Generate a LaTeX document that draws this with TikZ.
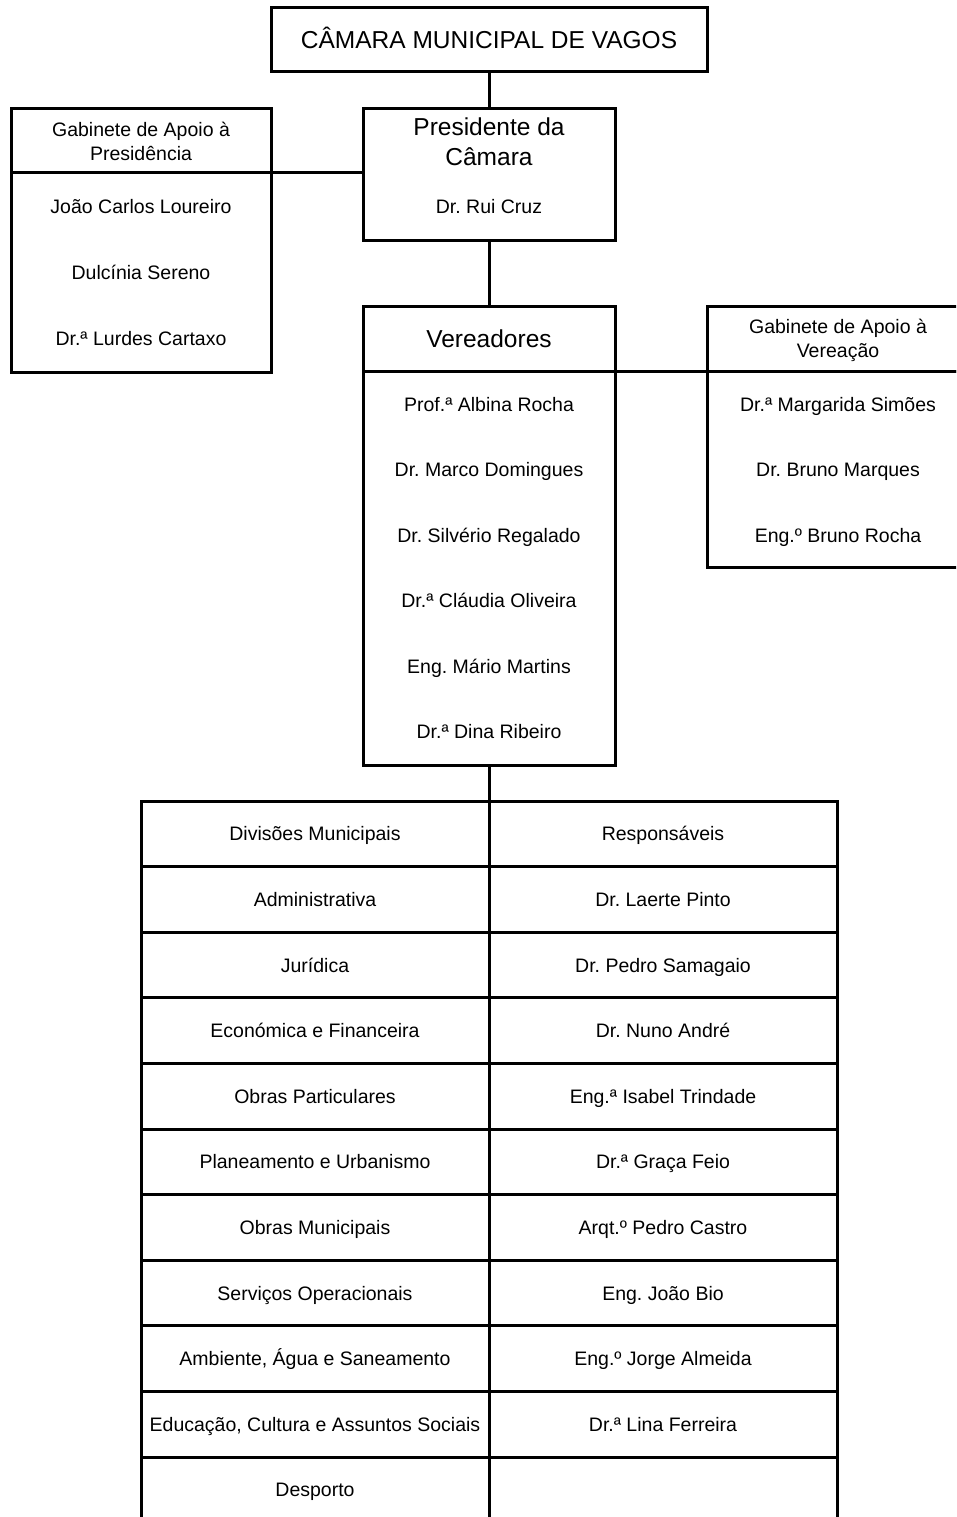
\documentclass[tikz,border=0pt]{standalone}
\usepackage{fontspec}
\setmainfont{Liberation Sans}
\newcommand\smallfnt{\fontsize{19.5}{24}\selectfont}
\newcommand\bigfnt{\fontsize{24.5}{30}\selectfont}
\tikzset{
  frame/.style={draw=black, line width=3pt, inner sep=0pt, outer sep=0pt, minimum width=#1},
  line/.style={draw=black, line width=3pt},
  txt/.style={inner sep=0pt, font=\smallfnt, text height=16pt, text depth=2pt},
  bigtxt/.style={inner sep=0pt, font=\bigfnt, text height=20pt, text depth=3pt},
  cell/.style={draw=black, line width=3pt, inner sep=0pt, outer sep=0pt, minimum width=348pt, minimum height=65.6pt, font=\smallfnt, text height=16pt, text depth=2pt}
}
\begin{document}
\frenchspacing
\begin{tikzpicture}[x=1pt, y=-1pt]
\useasboundingbox (0,0) rectangle (956,1517);
\clip (0,0) rectangle (956,1517);
% top box
\node[frame=436pt, minimum height=64pt] (top) at (489,40) {};
\node[bigtxt] (topT) at (489,40) {CÂMARA MUNICIPAL DE VAGOS};
% presidente
\node[frame=252pt, minimum height=131pt] (pres) at (489,174.5) {};
\node[bigtxt] (presT1) at (489,127) {Presidente da};
\node[bigtxt] (presT2) at (489,157) {Câmara};
\node[txt] (presN) at (489,207) {Dr. Rui Cruz};
% left gabinete
\node[frame=260pt, minimum height=64pt] (lhead) at (141,141) {};
\node[txt] (lh1) at (141,130) {Gabinete de Apoio à};
\node[txt] (lh2) at (141,154) {Presidência};
\node[frame=260pt, minimum height=199pt] (lbody) at (141,272.5) {};
\node[txt] (l1) at (141,207) {João Carlos Loureiro};
\node[txt] (l2) at (141,272) {Dulcínia Sereno};
\node[txt] (l3) at (141,338) {Dr.ª Lurdes Cartaxo};
% vereadores
\node[frame=252pt, minimum height=65pt] (vhead) at (489,338.5) {};
\node[bigtxt] (vT) at (489,339) {Vereadores};
\node[frame=252pt, minimum height=394pt] (vbody) at (489,568) {};
\node[txt] (v1) at (489,404) {Prof.ª Albina Rocha};
\node[txt] (v2) at (489,469) {Dr. Marco Domingues};
\node[txt] (v3) at (489,535) {Dr. Silvério Regalado};
\node[txt] (v4) at (489,600) {Dr.ª Cláudia Oliveira};
\node[txt] (v5) at (489,666) {Eng. Mário Martins};
\node[txt] (v6) at (489,731) {Dr.ª Dina Ribeiro};
% right gabinete
\node[frame=262pt, minimum height=65pt] (rhead) at (838,338.5) {};
\node[txt] (rh1) at (838,326) {Gabinete de Apoio à};
\node[txt] (rh2) at (838,350) {Vereação};
\node[frame=262pt, minimum height=196pt] (rbody) at (838,469) {};
\node[txt] (r1) at (838,404) {Dr.ª Margarida Simões};
\node[txt] (r2) at (838,469) {Dr. Bruno Marques};
\node[txt] (r3) at (838,535) {Eng.º Bruno Rocha};
% table
\node[cell] (d0) at (315,833.8) {Divisões Municipais};
\node[cell] (p0) at (663,833.8) {Responsáveis};
\node[cell] (d1) at (315,899.4) {Administrativa};
\node[cell] (p1) at (663,899.4) {Dr. Laerte Pinto};
\node[cell] (d2) at (315,965.0) {Jurídica};
\node[cell] (p2) at (663,965.0) {Dr. Pedro Samagaio};
\node[cell] (d3) at (315,1030.6) {Económica e Financeira};
\node[cell] (p3) at (663,1030.6) {Dr. Nuno André};
\node[cell] (d4) at (315,1096.2) {Obras Particulares};
\node[cell] (p4) at (663,1096.2) {Eng.ª Isabel Trindade};
\node[cell] (d5) at (315,1161.8) {Planeamento e Urbanismo};
\node[cell] (p5) at (663,1161.8) {Dr.ª Graça Feio};
\node[cell] (d6) at (315,1227.4) {Obras Municipais};
\node[cell] (p6) at (663,1227.4) {Arqt.º Pedro Castro};
\node[cell] (d7) at (315,1293.0) {Serviços Operacionais};
\node[cell] (p7) at (663,1293.0) {Eng. João Bio};
\node[cell] (d8) at (315,1358.6) {Ambiente, Água e Saneamento};
\node[cell] (p8) at (663,1358.6) {Eng.º Jorge Almeida};
\node[cell] (d9) at (315,1424.2) {Educação, Cultura e Assuntos Sociais};
\node[cell] (p9) at (663,1424.2) {Dr.ª Lina Ferreira};
\node[cell] (d10) at (315,1489.8) {Desporto};
\node[cell] (p10) at (663,1489.8) {};
% connectors
\draw[line] (top.south) -- (pres.north);
\draw[line] (lhead.south east) -- (lhead.south east -| pres.west);
\draw[line] (pres.south) -- (vhead.north);
\draw[line] (vhead.south east) -- (rhead.south west);
\draw[line] (vbody.south) -- (vbody.south |- d0.north);
\end{tikzpicture}
\end{document}
